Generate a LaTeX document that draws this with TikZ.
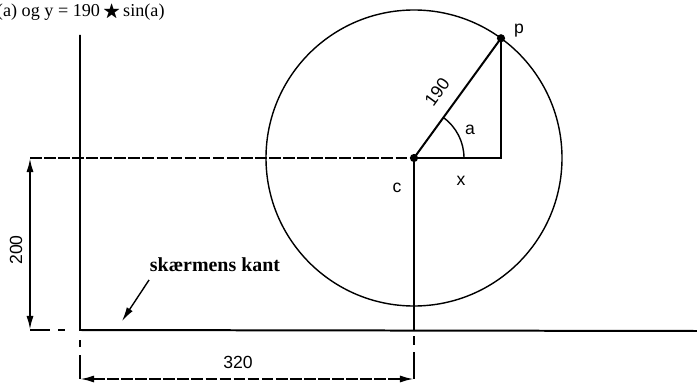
\documentclass[tikz,border=0pt]{standalone}
\usepackage{amssymb}
\usepackage{fontspec}
\setmainfont{Liberation Serif}
\newfontfamily\labelfont{Liberation Sans}
\usetikzlibrary{positioning,arrows.meta,calc}

\begin{document}
\begin{tikzpicture}[x=0.03cm,y=0.03cm,>={Latex[length=12pt,width=6pt]},
    line width=1.7pt,
    dashline/.style={dash pattern=on 10pt off 2pt},
    lbl/.style={font=\labelfont\fontsize{15}{17}\selectfont,inner sep=1pt},
    dot/.style={circle,fill,inner sep=0pt,minimum size=7pt}]
  \useasboundingbox (0,0) rectangle (697,385);
  % points
  \coordinate (c) at (414,227);
  \coordinate (p) at ($(c)+(54:148)$);
  \coordinate (q) at (p |- c);
  \coordinate (axtop) at (80,350);
  \coordinate (axbot) at (80,55);
  \coordinate (edge) at (697,54);
  \coordinate (dimtop) at (30,227);
  \coordinate (dimbot) at (30,55);
  \coordinate (dl) at (80,6);
  \coordinate (dr) at (414,6);
  % circle and triangle
  \draw[line width=1.2pt] (c) circle (148);
  \draw[dashline] (dimtop) -- (c);
  \draw (c) -- (q) -- (p) -- (c);
  \draw[line width=1.2pt] ($(c)+(50,0)$) arc (0:54:50);
  \node[dot] (cdot) at (c) {};
  \node[dot] (pdot) at (p) {};
  % axes and screen edge
  \draw (axtop) -- (axbot) -- (edge);
  \draw (c) -- (c |- axbot);
  % dimension 200
  \draw[<->] (dimtop) -- (dimbot);
  \draw (dimbot) -- ++(20,0) ++(8,0) -- ++(7,0);
  \node[lbl,rotate=90] (h) at (16,135) {200};
  % dimension 320
  \draw (80,45) -- (80,38) (80,30) -- (dl);
  \draw (414,49) -- (414,40) (414,33) -- (dr);
  \draw[<->,dashline] (dl) -- (dr);
  \node[lbl] (w) at (238,23) {320};
  % labels
  \node[lbl] (clbl) at (397,197) {c};
  \node[lbl] (xlbl) at (461,204) {x};
  \node[lbl] (albl) at (470,255) {a};
  \node[lbl] (plbl) at (519,354) {p};
  \node[lbl,rotate=54] (rlbl) at (437,293) {190};
  \node[font=\fontsize{17}{19}\selectfont\bfseries] (kant) at (215,120) {skærmens kant};
  \coordinate (kanttip) at (122,64);
  \draw[->,line width=1.2pt] ($(kant.south west)+(4,-3)$) -- (kanttip);
  \node[anchor=west,font=\fontsize{15.5}{17}\selectfont,inner sep=0pt] (formel) at (-4,373)
    {(a) og y = 190\,$\bigstar$\,sin(a)};
\end{tikzpicture}
\end{document}
